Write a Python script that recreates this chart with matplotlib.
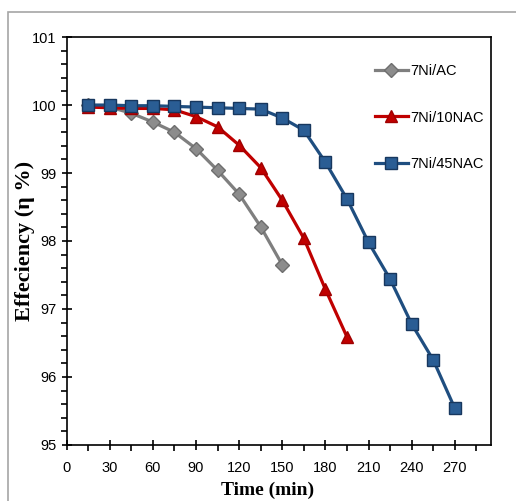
import numpy as np
import matplotlib.pyplot as plt
from matplotlib.patches import Rectangle
from matplotlib.ticker import MultipleLocator

plt.rcParams["font.family"] = ["Liberation Sans", "DejaVu Sans"]

# %% data
time_ac = [15, 30, 45, 60, 75, 90, 105, 120, 135, 150]
eff_ac = [100.0, 99.97, 99.88, 99.75, 99.6, 99.36, 99.04, 98.69, 98.21, 97.65]

time_10nac = [15, 30, 45, 60, 75, 90, 105, 120, 135, 150, 165, 180, 195]
eff_10nac = [99.97, 99.96, 99.95, 99.95, 99.93, 99.83, 99.68, 99.41, 99.08, 98.6, 98.04, 97.29, 96.59]

time_45nac = [15, 30, 45, 60, 75, 90, 105, 120, 135, 150, 165, 180, 195, 210, 225, 240, 255, 270]
eff_45nac = [100.0, 100.0, 99.99, 99.99, 99.98, 99.97, 99.96, 99.95, 99.94, 99.81, 99.63, 99.16,
             98.62, 97.98, 97.44, 96.78, 96.25, 95.54]

# %% plotting
fig = plt.figure(figsize=(5.16, 5.01), dpi=100)
fig.patches.append(Rectangle((8 / 516, -0.1), 1.2, 1 - 12 / 501 + 0.1, transform=fig.transFigure,
                             fill=False, edgecolor="#a6a6a6", linewidth=1.2))
ax = fig.add_axes([0.129, 0.112, 0.822, 0.814])

ax.plot(time_ac, eff_ac, color="#7f7f7f", linewidth=2.3, marker="D", markersize=7,
        markerfacecolor="#8c8c8c", markeredgecolor="#6e6e6e", label="7Ni/AC")
ax.plot(time_10nac, eff_10nac, color="#c00000", linewidth=2.3, marker="^", markersize=9,
        markerfacecolor="#c00000", markeredgecolor="#a00000", label="7Ni/10NAC")
ax.plot(time_45nac, eff_45nac, color="#1f4e80", linewidth=2.3, marker="s", markersize=8,
        markerfacecolor="#2a5d94", markeredgecolor="#17375e", label="7Ni/45NAC")

ax.set_xlim(0, 295)
ax.set_ylim(95, 101)
ax.xaxis.set_major_locator(MultipleLocator(30))
ax.xaxis.set_minor_locator(MultipleLocator(15))
ax.yaxis.set_major_locator(MultipleLocator(1))
ax.yaxis.set_minor_locator(MultipleLocator(0.2))
ax.set_xticks(np.arange(0, 271, 30))
ax.tick_params(which="major", direction="inout", length=7, width=1.2, labelsize=10.5)
ax.tick_params(axis="x", which="major", pad=8)
ax.tick_params(which="minor", direction="out", length=4, width=1.2)
for sp in ax.spines.values():
    sp.set_linewidth(1.2)

ax.set_xlabel("Time (min)", family="Liberation Serif", fontweight="bold", fontsize=14)
ax.set_ylabel("Effeciency (\u03b7 %)", family=["Liberation Serif", "DejaVu Serif"],
              fontweight="bold", fontsize=16)
ax.xaxis.set_label_coords(0.474, -0.09)
ax.yaxis.set_label_coords(-0.075, 0.5)

ax.legend(loc="upper right", frameon=False, fontsize=10.5, handlelength=2.2,
          handletextpad=0.2, labelspacing=2.2, borderaxespad=0.5, bbox_to_anchor=(1.015, 0.965))

fig.savefig("out.png", dpi=100)
